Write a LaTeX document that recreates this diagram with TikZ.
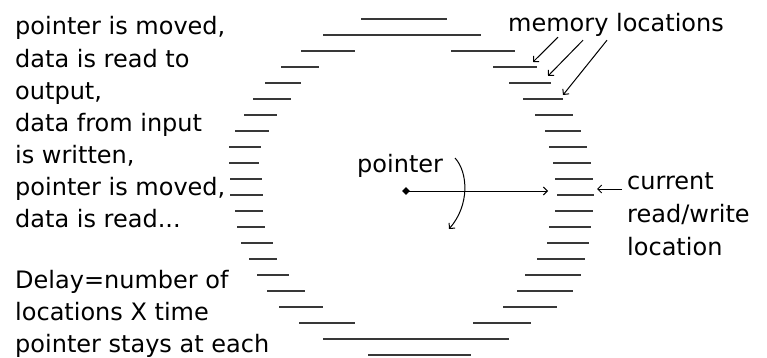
\documentclass[tikz,border=0pt]{standalone}
\usepackage{fontspec}
\setmainfont{DejaVu Sans}
\usetikzlibrary{arrows.meta, shapes.geometric}

\begin{document}
\begin{tikzpicture}[
        x=1pt, y=-1pt,
        font=\fontsize{24}{32}\selectfont,
        >={Straight Barb[length=4pt,width=8pt]},
        slot/.style={line width=2.2pt, black!78},
        label/.style={inner sep=0pt, anchor=base west, align=left},
        thin_arrow/.style={->, line width=1pt}
    ]
    \useasboundingbox (0,0) rectangle (767,358);

    % ========================================================
    % 1. MEMORY LOCATIONS (RING OF SLOTS)
    % ========================================================
    % single slots at top and bottom
    \foreach \y/\a/\b in {19/361/447, 35/323/481, 339/323/509, 355/368/471}
        \draw[slot] (\a,\y) -- (\b,\y);

    % left and right slots
    \foreach \y/\a/\b/\c/\d in {51/301/355/451/515, 67/281/319/493/537,
            83/265/301/509/551, 99/253/291/523/563, 115/244/277/535/573,
            131/235/269/545/581, 147/229/261/549/587, 163/229/259/553/591,
            179/230/262/555/593, 195/230/263/557/594, 211/235/263/555/593,
            227/237/265/549/591, 243/241/273/547/589, 259/249/277/537/585,
            275/257/289/525/581, 291/267/305/517/573, 307/279/323/503/557,
            323/299/355/473/531}
        {\draw[slot] (\a,\y) -- (\b,\y);
         \draw[slot] (\c,\y) -- (\d,\y);}

    \coordinate (slot4) at (533,62);
    \coordinate (slot5) at (548,76);
    \coordinate (slot6) at (563,95);
    \coordinate (cw) at (597,189);

    % ========================================================
    % 2. TEXTS (anchored at the baseline of the last line)
    % ========================================================
    \node[label] (steps) at (15,227) {pointer is moved,\\data is read to\\output,\\data from input\\is written,\\pointer is moved,\\data is read...};
    \node[label] (delay) at (15,352) {Delay=number of\\locations X time\\pointer stays at each};

    \node[label] (mem) at (508,32) {memory locations};
    \node[label] (ptr) at (357,172) {pointer};
    \node[label, font=\fontsize{24}{33}\selectfont] (curr) at (627,255) {current\\read/write\\location};

    % ========================================================
    % 3. POINTER AND ARROWS
    % ========================================================
    \node[diamond, fill, inner sep=0pt, minimum size=8pt] (pivot) at (406,191) {};
    \coordinate (head) at (548,191);
    \draw[thin_arrow] (pivot.center) -- (head);

    % rotation of the pointer
    \coordinate (swing_a) at (455,158);
    \coordinate (swing_b) at (449,229);
    \draw[thin_arrow] (swing_a) .. controls (468,172) and (470,205) .. (swing_b);

    % memory location labels
    \draw[thin_arrow] ([shift={(50,0)}]mem.south west) -- (slot4);
    \draw[thin_arrow] ([shift={(75,3)}]mem.south west) -- (slot5);
    \draw[thin_arrow] ([shift={(99,3)}]mem.south west) -- (slot6);

    % current location
    \draw[thin_arrow] ([shift={(-5,-66)}]curr.base west) -- (cw);

\end{tikzpicture}
\end{document}
